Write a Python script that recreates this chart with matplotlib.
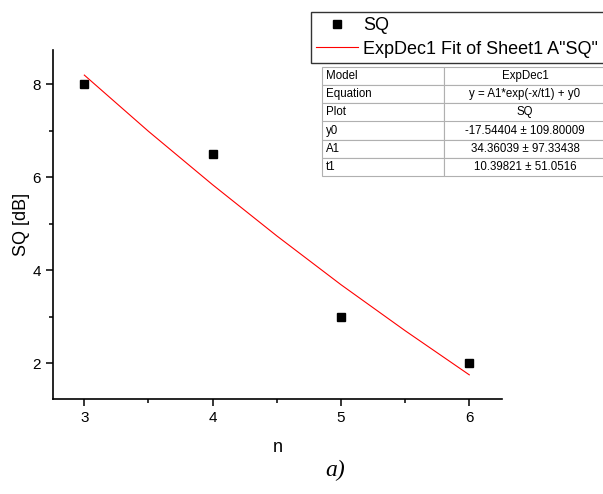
import matplotlib
matplotlib.use("Agg")
import matplotlib.pyplot as plt
from matplotlib.ticker import MultipleLocator

plt.rcParams['font.family'] = ['Liberation Sans', 'DejaVu Sans']

# measured points
n_vals = [3, 4, 5, 6]
sq_vals = [8.0, 6.5, 3.0, 2.0]

# ExpDec1 fit curve
fit_x = [3.0, 3.5, 4.0, 4.5, 5.0, 5.5, 6.0]
fit_y = [8.20, 6.99, 5.84, 4.74, 3.69, 2.70, 1.75]

# fit table
tbl_rows = ["Model", "Equation", "Plot", "y0", "A1", "t1"]
tbl_vals = ["ExpDec1", "y = A1*exp(-x/t1) + y0", "SQ",
            "-17.54404 \u00b1 109.80009", "34.36039 \u00b1 97.33438",
            "10.39821 \u00b1 51.0516"]

W, H = 603, 494
fig = plt.figure(figsize=(W / 100, H / 100), dpi=100)
ax = fig.add_axes([53 / W, 1 - 399 / H, (502 - 53) / W, (399 - 50) / H])

pts, = ax.plot(n_vals, sq_vals, 's', color='black', markersize=6, label='SQ')
fit, = ax.plot(fit_x, fit_y, '-', color='red', lw=0.8,
               label='ExpDec1 Fit of Sheet1 A"SQ"')

ax.set_xlim(2.756, 6.255)
ax.set_ylim(1.23, 8.74)
ax.xaxis.set_major_locator(MultipleLocator(1))
ax.xaxis.set_minor_locator(MultipleLocator(0.5))
ax.yaxis.set_major_locator(MultipleLocator(2))
ax.yaxis.set_minor_locator(MultipleLocator(1))
ax.spines['top'].set_visible(False)
ax.spines['right'].set_visible(False)
for s in ['left', 'bottom']:
    ax.spines[s].set_linewidth(1.2)
ax.tick_params(which='major', direction='out', length=5, width=1.1, labelsize=11)
ax.tick_params(which='minor', direction='out', length=3, width=1.1)
ax.set_xlabel('n', fontsize=13, labelpad=10)
ax.set_ylabel('SQ [dB]', fontsize=13, labelpad=2)

leg = fig.legend(handles=[pts, fit], loc='upper left',
                 bbox_to_anchor=(311 / W, 1 - 12 / H), fontsize=13,
                 frameon=True, fancybox=False, edgecolor='black',
                 handlelength=2.3, handletextpad=0.3, borderpad=0.3,
                 labelspacing=0.35, borderaxespad=0)
leg.get_frame().set_linewidth(1.0)

# fit table
tax = fig.add_axes([322 / W, 1 - 176 / H, (606 - 322) / W, (176 - 67) / H])
tax.axis('off')
cells = [[r, v] for r, v in zip(tbl_rows, tbl_vals)]
tb = tax.table(cellText=cells, bbox=[0, 0, 1, 1], colWidths=[122, 162],
               cellLoc='center')
tb.auto_set_font_size(False)
tb.set_fontsize(8.3)
for (r, c), cell in tb.get_celld().items():
    cell.set_edgecolor('#b0b0b0')
    cell.set_linewidth(0.8)
    if c == 0:
        cell.set_text_props(ha='left')
        cell.PAD = 0.03

fig.text(335 / W, 1 - 470 / H, 'a)', fontsize=17, style='italic',
         family='Liberation Serif', ha='center', va='center')

fig.savefig('out.png', dpi=100)
